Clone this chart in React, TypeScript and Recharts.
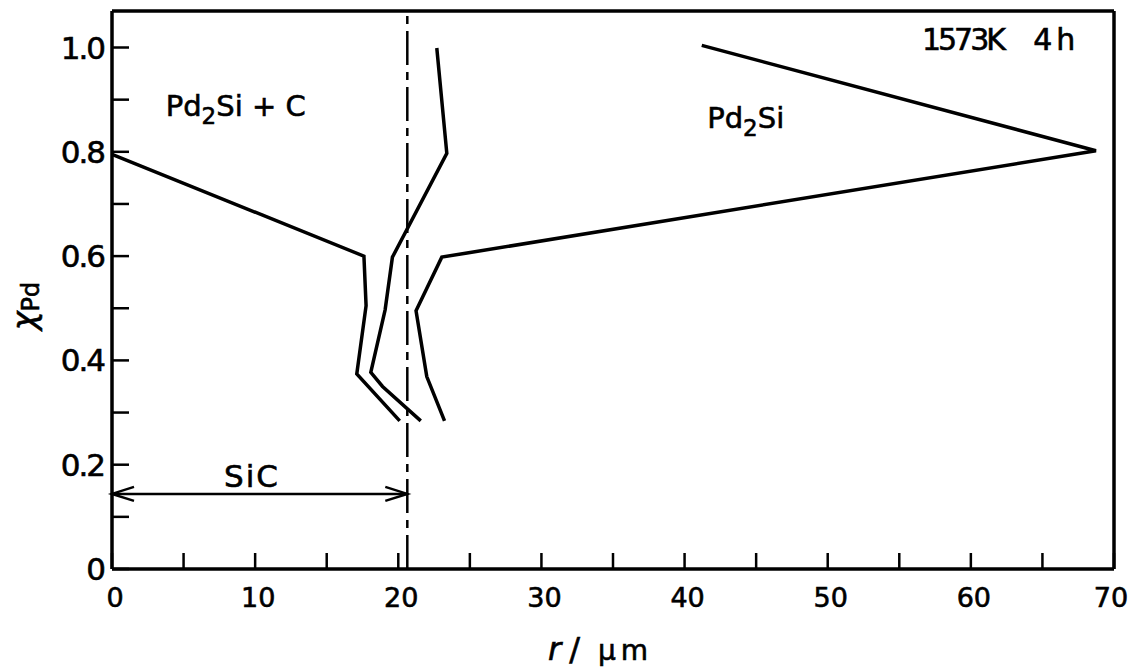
import React from 'react';
import { LineChart, Line, XAxis, YAxis, ReferenceLine, ReferenceDot } from 'recharts';

const FONT = '"DejaVu Sans", Verdana, sans-serif';
const TEXT_STROKE = 0.6;

// r in µm, x = X_Pd
const curveA = [
  { r: 0, x: 0.795 },
  { r: 17.6, x: 0.6 },
  { r: 17.75, x: 0.505 },
  { r: 17.1, x: 0.374 },
  { r: 20.1, x: 0.284 },
];
const curveB = [
  { r: 21.57, x: 0.284 },
  { r: 18.9, x: 0.35 },
  { r: 18.08, x: 0.377 },
  { r: 19.08, x: 0.497 },
  { r: 19.59, x: 0.598 },
  { r: 23.39, x: 0.797 },
  { r: 22.69, x: 0.999 },
];
const curveC = [
  { r: 23.23, x: 0.284 },
  { r: 21.99, x: 0.369 },
  { r: 21.24, x: 0.495 },
  { r: 23.04, x: 0.598 },
  { r: 68.74, x: 0.802 },
  { r: 41.2, x: 1.004 },
];

const xDomain = [0, 70];
const yDomain = [0, 1.07];
const xTicks = [0, 5, 10, 15, 20, 25, 30, 35, 40, 45, 50, 55, 60, 65, 70];
const xTickLabels: Record<number, string> = { 0: '0', 10: '10', 20: '20', 30: '30', 40: '40', 50: '50', 60: '60', 70: '70' };
const yTicks = [0, 0.1, 0.2, 0.3, 0.4, 0.5, 0.6, 0.7, 0.8, 0.9, 1.0];
const yTickLabels: Record<string, string> = { '0': '0', '0.2': '0.2', '0.4': '0.4', '0.6': '0.6', '0.8': '0.8', '1': '1.0' };

const interfaceR = 20.63;
const sicArrowY = 0.144;
const sicLabel = { r: 9.78, x: 0.157, text: 'SiC' };
const leftPhase = { r: 3.75, x: 0.868, main: 'Pd', sub: '2', rest: 'Si + C' };
const rightPhase = { r: 41.58, x: 0.846, main: 'Pd', sub: '2', rest: 'Si' };
const condTemp = { r: 56.58, x: 0.9956, text: '1573K' };
const condTime = { r: 64.36, x: 0.9956, text: '4h' };

const XTick = (props: any) => {
  const { x, y, payload } = props;
  const label = xTickLabels[payload.value];
  const isLast = payload.value === xDomain[1];
  return (
    <g>
      <line x1={x} x2={x} y1={y} y2={y - 16} stroke="#000" strokeWidth={2.5} />
      {label !== undefined && (
        <text
          x={isLast ? x - 3 : x + 3}
          y={y + 38}
          textAnchor="middle"
          fontSize={27}
          fontFamily={FONT}
          fill="#000"
          stroke="#000"
          strokeWidth={TEXT_STROKE}
        >
          {label}
        </text>
      )}
    </g>
  );
};

const YTick = (props: any) => {
  const { x, y, payload } = props;
  const label = yTickLabels[String(Math.round(payload.value * 10) / 10)];
  return (
    <g>
      <line x1={x} x2={x + 17} y1={y} y2={y} stroke="#000" strokeWidth={2.5} />
      {label !== undefined && (
        <text
          x={x - 8}
          y={y + 11}
          textAnchor="end"
          fontSize={31}
          letterSpacing={-2}
          fontFamily={FONT}
          fill="#000"
          stroke="#000"
          strokeWidth={TEXT_STROKE}
        >
          {label}
        </text>
      )}
    </g>
  );
};

const YAxisTitle = () => (
  <text
    transform="rotate(-90, 24, 306)"
    x={24}
    y={306}
    textAnchor="middle"
    dominantBaseline="central"
    fontFamily={FONT}
    fontSize={32}
    fill="#000"
    stroke="#000"
    strokeWidth={TEXT_STROKE}
  >
    <tspan fontStyle="italic">χ</tspan>
    <tspan fontSize={24} dy={7}>Pd</tspan>
  </text>
);

const XAxisTitle = () => (
  <text x={548} y={660} fontFamily={FONT} fill="#000" fontSize={32} stroke="#000" strokeWidth={TEXT_STROKE}>
    <tspan fontStyle="italic">r</tspan>
    <tspan dx={8}>/</tspan>
    <tspan dx={18} fontSize={28} letterSpacing={5}>μm</tspan>
  </text>
);

const PhaseLabel = (props: any) => {
  const { viewBox, main, sub, rest } = props;
  return (
    <text x={viewBox.x} y={viewBox.y} fontFamily={FONT} fontSize={29} fill="#000" stroke="#000" strokeWidth={TEXT_STROKE}>
      {main}
      <tspan fontSize={23} dy={8}>{sub}</tspan>
      <tspan dy={-8}>{rest}</tspan>
    </text>
  );
};

const PlainLabel = (props: any) => {
  const { viewBox, text, anchor, size, spacing } = props;
  return (
    <text
      x={viewBox.x}
      y={viewBox.y}
      textAnchor={anchor || 'start'}
      fontFamily={FONT}
      fontSize={size || 29}
      letterSpacing={spacing || 0}
      fill="#000"
      stroke="#000"
      strokeWidth={TEXT_STROKE}
    >
      {text}
    </text>
  );
};

const ArrowShape = (p: any) => {
  const { x1, y1, x2, y2 } = p;
  const L = 22;
  const H = 7;
  const left = Math.min(x1, x2);
  const right = Math.max(x1, x2);
  return (
    <g stroke="#000" strokeWidth={2.5} fill="none">
      <line x1={left} y1={y1} x2={right} y2={y2} />
      <polyline points={`${left + L},${y1 - H} ${left},${y1} ${left + L},${y1 + H}`} />
      <polyline points={`${right - L},${y2 - H} ${right},${y2} ${right - L},${y2 + H}`} />
    </g>
  );
};

export default function App() {
  return (
    <div style={{ position: 'fixed', top: 0, left: 0, width: 1131, height: 672, background: '#fff' }}>
      <LineChart width={1131} height={672} margin={{ top: 11, right: 17, bottom: 0, left: 0 }}>
        <XAxis
          type="number"
          dataKey="r"
          domain={xDomain}
          ticks={xTicks}
          interval={0}
          allowDataOverflow
          height={103}
          tickSize={0}
          tickMargin={0}
          tickLine={false}
          axisLine={{ stroke: '#000', strokeWidth: 3.5 }}
          tick={<XTick />}
          label={<XAxisTitle />}
        />
        <YAxis
          type="number"
          dataKey="x"
          domain={yDomain}
          ticks={yTicks}
          interval={0}
          allowDataOverflow
          width={112}
          tickSize={0}
          tickMargin={0}
          tickLine={false}
          axisLine={{ stroke: '#000', strokeWidth: 3.5 }}
          tick={<YTick />}
          label={<YAxisTitle />}
        />
        <ReferenceLine y={yDomain[1]} stroke="#000" strokeWidth={3.5} />
        <ReferenceLine x={xDomain[1]} stroke="#000" strokeWidth={3.5} />
        <ReferenceLine x={interfaceR} stroke="#000" strokeWidth={2.5} strokeDasharray="34 7 8 7" />
        <ReferenceLine
          segment={[{ x: 0, y: sicArrowY }, { x: interfaceR, y: sicArrowY }]}
          stroke="#000"
          shape={(p: any) => <ArrowShape {...p} />}
        />
        <Line data={curveA} dataKey="x" type="linear" stroke="#000" strokeWidth={3.5} dot={false} isAnimationActive={false} />
        <Line data={curveB} dataKey="x" type="linear" stroke="#000" strokeWidth={3.5} dot={false} isAnimationActive={false} />
        <Line data={curveC} dataKey="x" type="linear" stroke="#000" strokeWidth={3.5} dot={false} isAnimationActive={false} />
        <ReferenceDot x={leftPhase.r} y={leftPhase.x} r={0} fill="none" stroke="none"
          label={<PhaseLabel main={leftPhase.main} sub={leftPhase.sub} rest={leftPhase.rest} />} />
        <ReferenceDot x={rightPhase.r} y={rightPhase.x} r={0} fill="none" stroke="none"
          label={<PhaseLabel main={rightPhase.main} sub={rightPhase.sub} rest={rightPhase.rest} />} />
        <ReferenceDot x={condTemp.r} y={condTemp.x} r={0} fill="none" stroke="none"
          label={<PlainLabel text={condTemp.text} spacing={-3} size={30} />} />
        <ReferenceDot x={condTime.r} y={condTime.x} r={0} fill="none" stroke="none"
          label={<PlainLabel text={condTime.text} spacing={4} size={30} />} />
        <ReferenceDot x={sicLabel.r} y={sicLabel.x} r={0} fill="none" stroke="none"
          label={<PlainLabel text={sicLabel.text} anchor="middle" size={31} spacing={2} />} />
      </LineChart>
    </div>
  );
}
